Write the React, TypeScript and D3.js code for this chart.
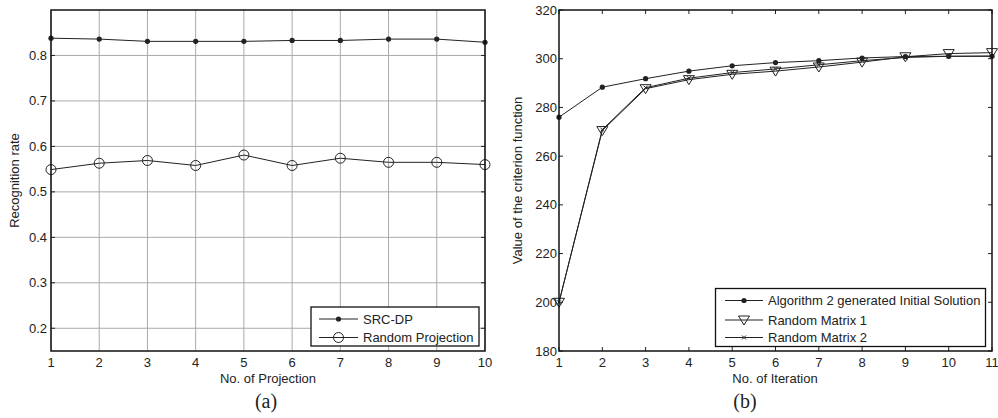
import React from 'react';
import * as d3 from 'd3';

// (a) recognition rate vs number of projection
const projections = [1, 2, 3, 4, 5, 6, 7, 8, 9, 10];
const srcDp = [0.838, 0.836, 0.831, 0.831, 0.831, 0.833, 0.833, 0.836, 0.836, 0.829];
const randomProjection = [0.549, 0.563, 0.569, 0.558, 0.581, 0.558, 0.574, 0.565, 0.565, 0.56];
const rateTicks = [0.2, 0.3, 0.4, 0.5, 0.6, 0.7, 0.8];

// (b) criterion value vs iteration
const iterations = [1, 2, 3, 4, 5, 6, 7, 8, 9, 10, 11];
const alg2Init = [276, 288.3, 291.8, 294.9, 297.1, 298.4, 299.2, 300.3, 300.9, 301.0, 301.0];
const randomMatrix1 = [200, 270.5, 287.7, 291.4, 293.6, 294.9, 296.6, 298.6, 300.8, 302.1, 302.5];
const randomMatrix2 = [200, 270.9, 288.1, 292.0, 294.3, 295.8, 297.5, 299.2, 300.5, 301.0, 301.1];
const criterionTicks = [180, 200, 220, 240, 260, 280, 300, 320];

const FONT = '"Liberation Sans", Arial, Helvetica, sans-serif';
const SERIF = '"Liberation Serif", "Times New Roman", serif';
const INK = '#222';
const FS = 13;

const Dot = ({ x, y }) => <circle cx={x} cy={y} r={2.6} fill={INK} />;
const Ring = ({ x, y }) => <circle cx={x} cy={y} r={5} fill="none" stroke={INK} strokeWidth={1} />;
const Tri = ({ x, y }) => (
  <path d={`M${x - 5.5},${y - 4} L${x + 5.5},${y - 4} L${x},${y + 5} Z`} fill="none" stroke={INK} strokeWidth={1} />
);
const Cross = ({ x, y }) => (
  <path d={`M${x - 2},${y - 2} L${x + 2},${y + 2} M${x - 2},${y + 2} L${x + 2},${y - 2}`} stroke={INK} strokeWidth={1} />
);

const PanelA = () => {
  const L = 51, R = 485, T = 10, B = 351;
  const x = d3.scaleLinear().domain([1, 10]).range([L, R]);
  const y = d3.scaleLinear().domain([0.15, 0.9]).range([B, T]);
  const line = (vals) => d3.line().x((_, i) => x(projections[i])).y(d => y(d))(vals);
  return (
    <g fontFamily={FONT}>
      {projections.map(p => (
        <line key={'gx' + p} x1={x(p)} x2={x(p)} y1={T} y2={B} stroke="#aaa" strokeWidth={1} />
      ))}
      {rateTicks.map(t => (
        <g key={'gy' + t}>
          <line x1={L} x2={R} y1={y(t)} y2={y(t)} stroke="#aaa" strokeWidth={1} />
          <line x1={L} x2={L + 4} y1={y(t)} y2={y(t)} stroke={INK} />
          <line x1={R - 4} x2={R} y1={y(t)} y2={y(t)} stroke={INK} />
          <text x={L - 4} y={y(t)} dy="0.35em" textAnchor="end" fontSize={FS} fill={INK}>{t.toFixed(1)}</text>
        </g>
      ))}
      {projections.map(p => (
        <text key={'tx' + p} x={x(p)} y={B + 16} textAnchor="middle" fontSize={FS} fill={INK}>{p}</text>
      ))}
      <path d={line(srcDp)} fill="none" stroke={INK} strokeWidth={1} />
      <path d={line(randomProjection)} fill="none" stroke={INK} strokeWidth={1} />
      {srcDp.map((v, i) => <Dot key={'d' + i} x={x(projections[i])} y={y(v)} />)}
      {randomProjection.map((v, i) => <Ring key={'r' + i} x={x(projections[i])} y={y(v)} />)}
      <rect x={L} y={T} width={R - L} height={B - T} fill="none" stroke="#111" strokeWidth={1.5} />
      <g>
        <rect x={311} y={307} width={168} height={39} fill="#fff" stroke="#111" strokeWidth={1.3} />
        <line x1={319} x2={358} y1={319} y2={319} stroke={INK} />
        <Dot x={338.5} y={319} />
        <text x={363} y={319} dy="0.35em" fontSize={FS} fill={INK}>SRC-DP</text>
        <line x1={319} x2={358} y1={337.5} y2={337.5} stroke={INK} />
        <Ring x={338.5} y={337.5} />
        <text x={363} y={337.5} dy="0.35em" fontSize={FS} fill={INK}>Random Projection</text>
      </g>
      <text x={(L + R) / 2} y={383} textAnchor="middle" fontSize={FS} fill={INK}>No. of Projection</text>
      <text transform={`translate(19,${(T + B) / 2}) rotate(-90)`} textAnchor="middle" fontSize={FS} fill={INK}>Recognition rate</text>
      <text x={266} y={408} textAnchor="middle" fontSize={20} fontFamily={SERIF} fill={INK}>(a)</text>
    </g>
  );
};

const PanelB = () => {
  const L = 559, R = 992, T = 10, B = 351;
  const x = d3.scaleLinear().domain([1, 11]).range([L, R]);
  const y = d3.scaleLinear().domain([180, 320]).range([B, T]);
  const line = (vals) => d3.line().x((_, i) => x(iterations[i])).y(d => y(d))(vals);
  const legY = [300.5, 320, 337.5];
  return (
    <g fontFamily={FONT}>
      {iterations.map(it => (
        <g key={'tx' + it}>
          <line x1={x(it)} x2={x(it)} y1={B} y2={B - 4} stroke={INK} />
          <line x1={x(it)} x2={x(it)} y1={T} y2={T + 4} stroke={INK} />
          <text x={x(it)} y={B + 16} textAnchor="middle" fontSize={FS} fill={INK}>{it}</text>
        </g>
      ))}
      {criterionTicks.map(t => (
        <g key={'ty' + t}>
          <line x1={L} x2={L + 4} y1={y(t)} y2={y(t)} stroke={INK} />
          <line x1={R - 4} x2={R} y1={y(t)} y2={y(t)} stroke={INK} />
          <text x={L - 2} y={y(t)} dy="0.35em" textAnchor="end" fontSize={FS} fill={INK}>{t}</text>
        </g>
      ))}
      <path d={line(randomMatrix2)} fill="none" stroke={INK} strokeWidth={1} />
      <path d={line(randomMatrix1)} fill="none" stroke={INK} strokeWidth={1} />
      <path d={line(alg2Init)} fill="none" stroke={INK} strokeWidth={1} />
      {randomMatrix2.map((v, i) => <Cross key={'c' + i} x={x(iterations[i])} y={y(v)} />)}
      {randomMatrix1.map((v, i) => <Tri key={'t' + i} x={x(iterations[i])} y={y(v)} />)}
      {alg2Init.map((v, i) => <Dot key={'d' + i} x={x(iterations[i])} y={y(v)} />)}
      <rect x={L} y={T} width={R - L} height={B - T} fill="none" stroke="#111" strokeWidth={1.5} />
      <g>
        <rect x={715.5} y={288.5} width={270} height={58} fill="#fff" stroke="#111" strokeWidth={1.3} />
        {legY.map(ly => <line key={'ll' + ly} x1={725} x2={763} y1={ly} y2={ly} stroke={INK} />)}
        <Dot x={744} y={legY[0]} />
        <Tri x={744} y={legY[1]} />
        <Cross x={744} y={legY[2]} />
        <text x={768} y={legY[0]} dy="0.35em" fontSize={FS} fill={INK}>Algorithm 2 generated Initial Solution</text>
        <text x={768} y={legY[1]} dy="0.35em" fontSize={FS} fill={INK}>Random Matrix 1</text>
        <text x={768} y={legY[2]} dy="0.35em" fontSize={FS} fill={INK}>Random Matrix 2</text>
      </g>
      <text x={775} y={383} textAnchor="middle" fontSize={FS} fill={INK}>No. of Iteration</text>
      <text transform={`translate(522,${(T + B) / 2}) rotate(-90)`} textAnchor="middle" fontSize={FS} fill={INK}>Value of the criterion function</text>
      <text x={745} y={408} textAnchor="middle" fontSize={20} fontFamily={SERIF} fill={INK}>(b)</text>
    </g>
  );
};

export default function App() {
  return (
    <div style={{ position: 'fixed', left: 0, top: 0, width: 998, height: 418, background: '#fff' }}>
      <svg width={998} height={418} viewBox="0 0 998 418" style={{ display: 'block' }}>
        <rect width={998} height={418} fill="#fff" />
        <PanelA />
        <PanelB />
      </svg>
    </div>
  );
}
